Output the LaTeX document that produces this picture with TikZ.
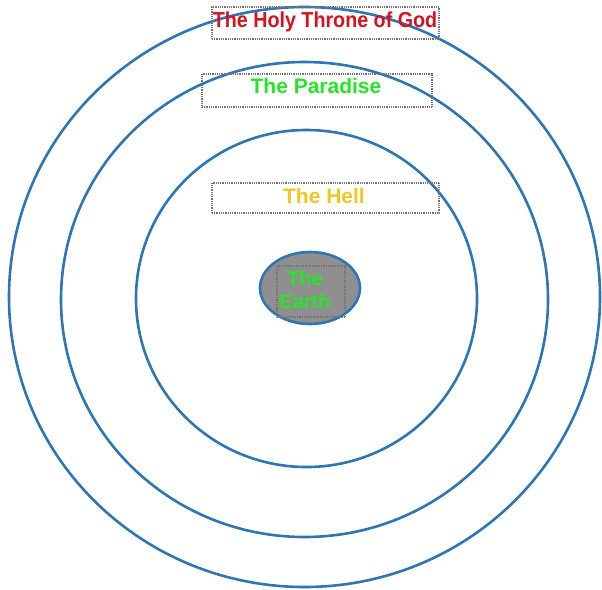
\documentclass[tikz,border=0pt]{standalone}
\usepackage{fontspec}
\setmainfont{Liberation Sans}
\definecolor{ringblue}{RGB}{46,117,182}
\definecolor{thronered}{RGB}{212,18,32}
\definecolor{paradisegreen}{RGB}{40,228,40}
\definecolor{hellyellow}{RGB}{242,198,36}
\definecolor{earthgray}{RGB}{143,143,143}
\begin{document}
\begin{tikzpicture}[x=1pt,y=-1pt,
        ring/.style={draw=ringblue,line width=2.6pt},
        tag/.style={draw=black!55,line width=1.4pt,dash pattern=on 1pt off 0.8pt,inner sep=0pt},
        lbl/.style={font=\bfseries\fontsize{21}{23}\selectfont,anchor=base,inner sep=0pt}]
        \useasboundingbox (0,0) rectangle (602,589);
        % the rings
        \draw[ring] (304.5,297) ellipse [x radius=295.5pt,y radius=290pt];
        \draw[ring] (304.5,299.5) ellipse [x radius=243.5pt,y radius=237.5pt];
        \draw[ring] (306.5,298.5) ellipse [x radius=170.5pt,y radius=168.5pt];
        \draw[ring,fill=earthgray] (310,288) ellipse [x radius=50pt,y radius=36pt];
        % boxes
        \node[tag,minimum width=227pt,minimum height=32pt] (throneBox) at (325.5,23) {};
        \node[tag,minimum width=230pt,minimum height=33pt] (paradiseBox) at (317,90.5) {};
        \node[tag,minimum width=227pt,minimum height=30pt] (hellBox) at (325.5,198) {};
        \node[tag,minimum width=68pt,minimum height=51pt] (earthBox) at (311,291.5) {};
        % labels
        \node[lbl,text=thronered,font=\bfseries\fontsize{19.7}{23}\selectfont,yscale=1.1] (throne) at (325,27.5) {The Holy Throne of God};
        \node[lbl,text=paradisegreen] (paradise) at (316,93) {The Paradise};
        \node[lbl,text=hellyellow] (hell) at (324,203) {The Hell};
        \node[lbl,text=paradisegreen,font=\bfseries\fontsize{20}{23}\selectfont,align=center,anchor=north] (earth) at (305,271) {The\\Earth};
\end{tikzpicture}
\end{document}
